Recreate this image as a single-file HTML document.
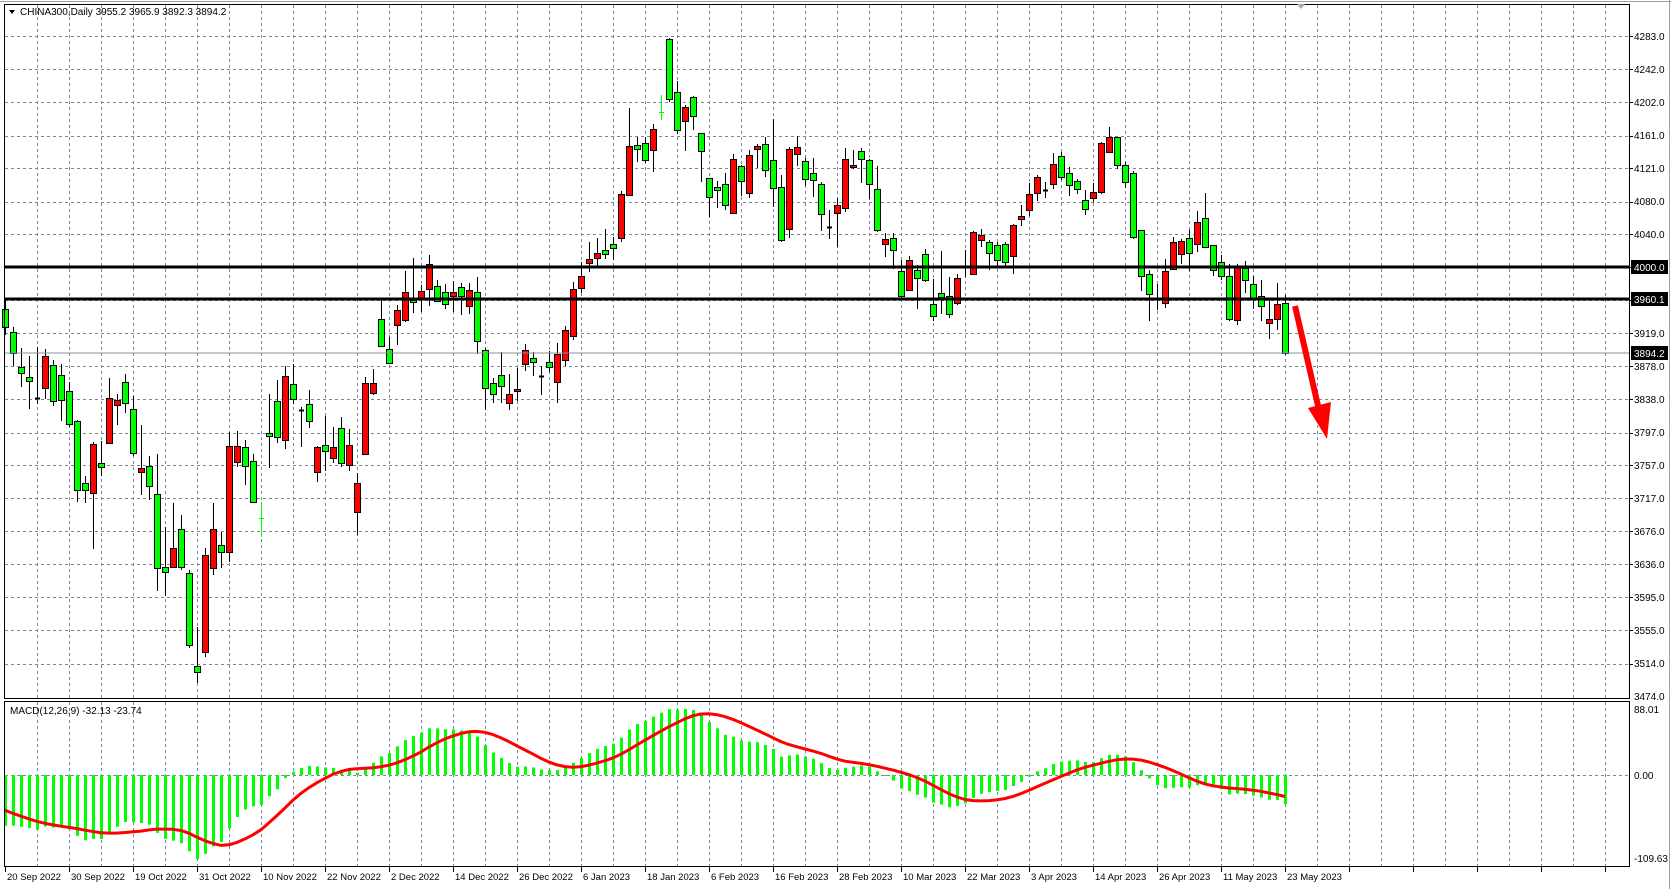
<!DOCTYPE html>
<html><head><meta charset="utf-8">
<style>
html,body{margin:0;padding:0;background:#fff;width:1671px;height:889px;overflow:hidden}
svg{display:block}
text{font-family:"Liberation Sans",sans-serif;font-size:10px;fill:#000}
.d text{font-size:9.5px}
</style></head><body>
<svg id="s" width="1671" height="889" xmlns="http://www.w3.org/2000/svg">
<rect x="0" y="0" width="1671" height="889" fill="#fff"/>
<g id="grid"></g>
<g id="macd"></g>
<g id="candles"></g>
<line x1="5" y1="267" x2="1629" y2="267" stroke="#000" stroke-width="3"/>
<line x1="5" y1="299" x2="1629" y2="299" stroke="#000" stroke-width="3"/>
<line x1="5" y1="353" x2="1629" y2="353" stroke="#8a9099" stroke-width="1"/>
<line x1="1295" y1="306" x2="1319" y2="410" stroke="#ff0000" stroke-width="6"/>
<polygon points="1308,408 1331,402 1327,439" fill="#ff0000"/>
<rect x="4.5" y="4.5" width="1625" height="694" fill="none" stroke="#000"/>
<rect x="4.5" y="701.5" width="1625" height="165" fill="none" stroke="#000"/>
<line x1="1669.5" y1="0" x2="1669.5" y2="889" stroke="#a0a0a0"/>
<line x1="0" y1="1.5" x2="1671" y2="1.5" stroke="#a0a0a0"/>
<polygon points="1297,4 1305,4 1301,9" fill="#a0a8b0"/>
<polygon points="9,10 15,10 12,14" fill="#000"/>
<text x="20" y="15">CHINA300,Daily  3955.2 3965.9 3892.3 3894.2</text>
<text x="10" y="714">MACD(12,26,9) -32.13 -23.74</text>
<g id="plab">
<text x="1634" y="40">4283.0</text>
<text x="1634" y="73">4242.0</text>
<text x="1634" y="106">4202.0</text>
<text x="1634" y="139">4161.0</text>
<text x="1634" y="172">4121.0</text>
<text x="1634" y="205">4080.0</text>
<text x="1634" y="238">4040.0</text>
<text x="1634" y="337">3919.0</text>
<text x="1634" y="370">3878.0</text>
<text x="1634" y="403">3838.0</text>
<text x="1634" y="436">3797.0</text>
<text x="1634" y="469">3757.0</text>
<text x="1634" y="502">3717.0</text>
<text x="1634" y="535">3676.0</text>
<text x="1634" y="568">3636.0</text>
<text x="1634" y="601">3595.0</text>
<text x="1634" y="634">3555.0</text>
<text x="1634" y="667">3514.0</text>
<text x="1634" y="700">3474.0</text>
</g>
<rect x="1631" y="260" width="37" height="14" fill="#000"/>
<text x="1634" y="271" style="fill:#fff">4000.0</text>
<rect x="1631" y="292" width="37" height="14" fill="#000"/>
<text x="1634" y="303" style="fill:#fff">3960.1</text>
<rect x="1631" y="346" width="37" height="14" fill="#000"/>
<text x="1634" y="357" style="fill:#fff">3894.2</text>
<text x="1634" y="713">88.01</text>
<text x="1634" y="779">0.00</text>
<text x="1634" y="862">-109.63</text>
<g class="d">
<text x="7" y="880">20 Sep 2022</text>
<text x="71" y="880">30 Sep 2022</text>
<text x="135" y="880">19 Oct 2022</text>
<text x="199" y="880">31 Oct 2022</text>
<text x="263" y="880">10 Nov 2022</text>
<text x="327" y="880">22 Nov 2022</text>
<text x="391" y="880">2 Dec 2022</text>
<text x="455" y="880">14 Dec 2022</text>
<text x="519" y="880">26 Dec 2022</text>
<text x="583" y="880">6 Jan 2023</text>
<text x="647" y="880">18 Jan 2023</text>
<text x="711" y="880">6 Feb 2023</text>
<text x="775" y="880">16 Feb 2023</text>
<text x="839" y="880">28 Feb 2023</text>
<text x="903" y="880">10 Mar 2023</text>
<text x="967" y="880">22 Mar 2023</text>
<text x="1031" y="880">3 Apr 2023</text>
<text x="1095" y="880">14 Apr 2023</text>
<text x="1159" y="880">26 Apr 2023</text>
<text x="1223" y="880">11 May 2023</text>
<text x="1287" y="880">23 May 2023</text>
</g>
<g id="ticks"></g>
</svg>
<script>
var NS="http://www.w3.org/2000/svg";
function el(p,t,a){var e=document.createElementNS(NS,t);for(var k in a)e.setAttribute(k,a[k]);p.appendChild(e);return e;}
var grid=document.getElementById('grid'),ticks=document.getElementById('ticks');
for(var x=37;x<1629;x+=32){
 el(grid,'line',{x1:x+.5,y1:5,x2:x+.5,y2:698,stroke:'#7a8694','stroke-dasharray':'3,3'});
 el(grid,'line',{x1:x+.5,y1:702,x2:x+.5,y2:866,stroke:'#7a8694','stroke-dasharray':'3,3'});
}
var ps=[4283,4242,4202,4161,4121,4080,4040,4000,3960,3919,3878,3838,3797,3757,3717,3676,3636,3595,3555,3514];
ps.forEach(function(p){var y=Math.round(36+(4283-p)*0.816)+.5;
 el(grid,'line',{x1:5,y1:y,x2:1629,y2:y,stroke:'#7a8694','stroke-dasharray':'3,3'});
 el(grid,'line',{x1:1629,y1:y,x2:1633,y2:y,stroke:'#000'});});
el(grid,'line',{x1:5,y1:775.5,x2:1629,y2:775.5,stroke:'#7a8694','stroke-dasharray':'3,3'});
for(var x=5;x<1629;x+=64){el(ticks,'line',{x1:x+.5,y1:867,x2:x+.5,y2:872,stroke:'#000'});}
var D=[
[309,327,300,335,'g'],[332,353,327,366,'g'],[367,373,348,387,'g'],[377,381,356,409,'g'],[398,398,347,404,'k'],
[356,388,349,399,'r'],[365,401,360,406,'g'],[375,400,364,421,'g'],[391,424,382,427,'g'],[421,490,420,502,'g'],
[483,490,476,503,'g'],[444,493,442,549,'r'],[463,467,441,476,'g'],[398,443,378,443,'r'],[400,405,394,425,'r'],
[382,403,374,413,'g'],[409,453,396,456,'g'],[468,472,425,495,'r'],[466,486,456,500,'g'],[494,568,454,591,'g'],
[567,572,527,596,'g'],[548,567,503,567,'r'],[529,567,515,570,'g'],[573,645,570,648,'g'],[666,672,627,683,'g'],
[555,652,548,657,'r'],[529,568,503,575,'r'],[545,552,532,568,'g'],[446,552,432,562,'r'],[446,462,431,467,'r'],
[447,466,440,485,'g'],[461,502,454,503,'g'],[518,518,502,537,'c'],[433,436,394,468,'g'],[401,437,380,443,'g'],
[376,440,366,449,'r'],[384,399,364,404,'g'],[410,410,407,447,'k'],[404,421,390,428,'g'],[447,472,446,482,'r'],
[445,451,416,471,'g'],[447,458,427,463,'r'],[428,463,417,467,'g'],[445,465,429,471,'r'],[483,512,473,535,'r'],
[383,454,377,454,'r'],[383,393,369,395,'r'],[319,346,300,347,'g'],[349,363,337,364,'g'],[310,325,305,345,'r'],
[292,320,271,322,'r'],[300,302,258,313,'g'],[291,298,285,312,'r'],[264,289,255,306,'r'],[286,301,280,302,'g'],
[292,304,284,309,'g'],[292,296,281,312,'r'],[287,296,283,315,'g'],[290,306,283,314,'r'],[292,341,277,354,'g'],
[350,388,348,410,'g'],[383,394,378,403,'g'],[375,386,352,403,'g'],[394,403,374,410,'r'],[389,391,368,401,'r'],
[350,364,344,371,'r'],[358,362,352,376,'g'],[376,376,366,395,'k'],[362,367,351,372,'g'],[354,382,343,403,'r'],
[330,360,326,366,'r'],[289,336,282,340,'r'],[276,288,262,293,'r'],[259,263,242,272,'r'],[253,258,238,267,'r'],
[250,254,229,259,'g'],[244,248,237,260,'g'],[194,238,191,242,'r'],[146,195,108,195,'r'],[145,149,137,162,'g'],
[143,160,137,163,'g'],[129,150,124,172,'r'],[112,112,95,120,'c'],[39,99,38,102,'g'],[92,130,81,134,'g'],
[107,121,105,151,'r'],[97,116,96,130,'g'],[133,151,133,182,'g'],[178,197,178,217,'g'],[187,190,181,208,'g'],
[184,205,173,210,'g'],[159,213,154,213,'r'],[166,181,165,196,'g'],[155,193,150,198,'r'],[146,149,144,168,'r'],
[144,170,137,177,'g'],[160,188,119,207,'g'],[187,240,175,242,'g'],[149,229,147,238,'r'],[147,154,136,166,'r'],
[161,179,158,186,'g'],[173,180,158,197,'g'],[184,214,182,231,'g'],[227,227,210,239,'k'],[205,213,198,247,'r'],
[159,208,148,212,'r'],[165,167,150,169,'r'],[151,159,148,183,'g'],[160,184,159,199,'g'],[189,230,166,232,'g'],
[239,244,233,257,'r'],[238,250,233,269,'g'],[271,296,260,298,'g'],[260,290,256,290,'r'],[270,278,265,309,'g'],
[254,280,249,282,'g'],[304,316,279,321,'g'],[293,297,251,314,'g'],[296,314,277,318,'g'],[278,303,274,305,'r'],
[266,266,250,277,'k'],[232,274,231,275,'r'],[235,240,229,247,'r'],[242,253,240,270,'g'],[245,260,242,267,'g'],
[244,262,242,266,'g'],[225,256,224,274,'r'],[216,219,205,226,'r'],[194,210,183,216,'r'],[177,193,175,201,'r'],
[190,190,182,198,'k'],[164,184,153,189,'r'],[156,177,152,180,'g'],[173,185,167,196,'g'],[181,189,179,194,'g'],
[200,209,190,215,'g'],[192,198,183,202,'r'],[143,192,142,194,'r'],[137,152,127,152,'r'],[137,165,137,169,'g'],
[165,182,162,188,'g'],[173,237,171,239,'g'],[230,276,230,291,'g'],[274,294,270,321,'g'],[299,299,284,310,'k'],
[271,303,259,308,'r'],[242,269,237,269,'r'],[241,254,239,264,'r'],[238,253,230,271,'g'],[222,244,211,252,'r'],
[218,247,193,247,'g'],[245,270,245,276,'g'],[262,276,255,280,'g'],[276,319,264,321,'g'],[267,320,264,325,'r'],
[268,280,261,293,'g'],[284,298,276,309,'g'],[296,306,280,321,'g'],[319,323,300,339,'r'],[304,319,283,330,'r'],
[303,353,295,355,'g']];
var cg=document.getElementById('candles');
var closes=[];
D.forEach(function(d,i){
 var x=5+8*i;
 var c=d[4]=='r'?d[0]:(d[4]=='k'||d[4]=='c'?d[0]:d[1]);
 closes.push(-c/0.816);
 if(d[4]=='c'){el(cg,'line',{x1:x+.5,y1:d[2],x2:x+.5,y2:d[3],stroke:'#00ff00'});
   el(cg,'line',{x1:x-2,y1:d[0]+.5,x2:x+3,y2:d[0]+.5,stroke:'#00ff00'});return;}
 el(cg,'line',{x1:x+.5,y1:d[2],x2:x+.5,y2:d[3],stroke:'#000'});
 if(d[4]=='k'){el(cg,'line',{x1:x-2,y1:d[0]+.5,x2:x+3,y2:d[0]+.5,stroke:'#000','stroke-width':2});return;}
 el(cg,'rect',{x:x-2.5,y:d[0]+.5,width:6,height:Math.max(2,d[1]-d[0]),fill:d[4]=='r'?'#ff0000':'#00ff00',stroke:'#000','stroke-width':1});
});
var c0=closes[0],e12=c0+19,e26=c0+75,a12=2/13,a26=2/27;
var hist=[],hq=[-25,-29,-32,-35,-38,-42,-45,-48];
var sig=[];
closes.forEach(function(c,i){
 if(i>0){e12+=a12*(c-e12);e26+=a26*(c-e26);}
 var m=e12-e26;hist.push(m);hq.push(m);
 var s=0;for(var k=hq.length-9;k<hq.length;k++)s+=hq[k];sig.push(s/9);
});
var mx=-1e9,mn=1e9;hist.forEach(function(v){if(v>mx)mx=v;if(v<mn)mn=v;});
var kp=66/mx,kn=84/(-mn);
function Y(v){return 775-(v>0?v*kp:v*kn);}
var mg=document.getElementById('macd');
hist.forEach(function(v,i){var x=5+8*i;var y=Y(v);
 el(mg,'rect',{x:x-1,y:Math.min(y,775),width:3,height:Math.max(1,Math.abs(y-775)),fill:'#00ff00'});});
var pts=sig.map(function(v,i){return (5+8*i)+','+Y(v).toFixed(1);}).join(' ');
el(mg,'polyline',{points:pts,fill:'none',stroke:'#ff0000','stroke-width':3,'stroke-linejoin':'round'});
</script>
</body></html>
